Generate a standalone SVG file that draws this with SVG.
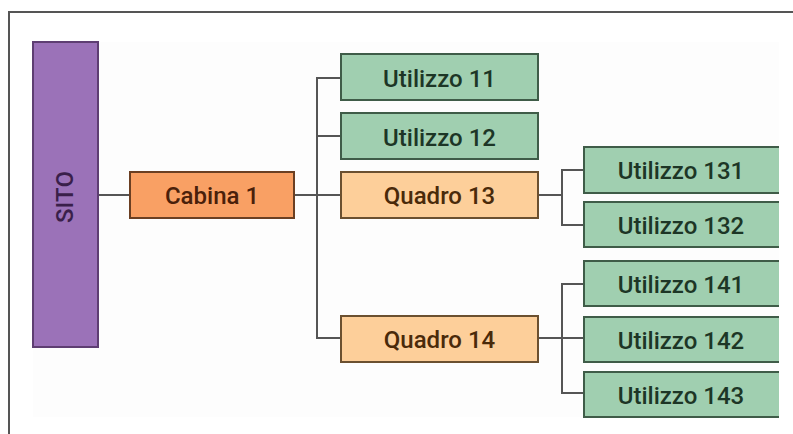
<svg xmlns="http://www.w3.org/2000/svg" width="793" height="434" viewBox="0 0 793 434">
<defs>
<style>
.t{font-family:Roboto,"Liberation Sans",sans-serif;font-size:24px;font-weight:500;text-anchor:middle}
.g rect{fill:#a0cfb0;stroke:#3f5c48;stroke-width:2}
.g text{fill:#1d3626}
.q rect{fill:#fdcf9a;stroke:#6b5030;stroke-width:2}
.q text{fill:#4a2a0a}
.c line,.c polyline,.c path{stroke:#555;stroke-width:2;fill:none}
</style>
<clipPath id="cut"><rect x="0" y="0" width="779" height="434"/></clipPath>
</defs>
<rect width="793" height="434" fill="#fff"/>
<path d="M793 12H9V434" fill="none" stroke="#555" stroke-width="2"/>
<rect x="33" y="42" width="746" height="375" fill="#fdfdfd"/>
<g class="c" id="connectors">
<line x1="99" y1="195" x2="130" y2="195"/>
<line x1="294" y1="195" x2="341" y2="195"/>
<path d="M341 78H317V338H341"/>
<line x1="317" y1="136" x2="341" y2="136"/>
<line x1="538" y1="195" x2="562" y2="195"/>
<path d="M584 170H562V225H584"/>
<line x1="538" y1="338" x2="562" y2="338"/>
<path d="M584 284H562V393H584"/>
<line x1="562" y1="338" x2="584" y2="338"/>
</g>
<g id="sito">
<rect x="33" y="42" width="65" height="305" fill="#9b72b8" stroke="#5e3e72" stroke-width="2"/>
<text class="t" transform="translate(73,197) rotate(-90)" fill="#3a1f4a">SITO</text>
</g>
<g id="cabina1">
<rect x="130" y="172" width="164" height="46" fill="#f9a064" stroke="#6b3f22" stroke-width="2"/>
<text class="t" x="212" y="204" fill="#4a200a">Cabina 1</text>
</g>
<g id="u11" class="g"><rect x="341" y="54" width="197" height="46"/><text class="t" x="439.5" y="87">Utilizzo 11</text></g>
<g id="u12" class="g"><rect x="341" y="113" width="197" height="46"/><text class="t" x="439.5" y="146">Utilizzo 12</text></g>
<g id="q13" class="q"><rect x="341" y="172" width="197" height="46"/><text class="t" x="439.5" y="204">Quadro 13</text></g>
<g id="q14" class="q"><rect x="341" y="316" width="197" height="46"/><text class="t" x="439.5" y="348">Quadro 14</text></g>
<g clip-path="url(#cut)">
<g id="u131" class="g"><rect x="584" y="147" width="210" height="46"/><text class="t" x="681" y="179">Utilizzo 131</text></g>
<g id="u132" class="g"><rect x="584" y="202" width="210" height="45"/><text class="t" x="681" y="234">Utilizzo 132</text></g>
<g id="u141" class="g"><rect x="584" y="261" width="210" height="45"/><text class="t" x="681" y="293">Utilizzo 141</text></g>
<g id="u142" class="g"><rect x="584" y="317" width="210" height="45"/><text class="t" x="681" y="349">Utilizzo 142</text></g>
<g id="u143" class="g"><rect x="584" y="372" width="210" height="45"/><text class="t" x="681" y="404">Utilizzo 143</text></g>
</g>
</svg>
